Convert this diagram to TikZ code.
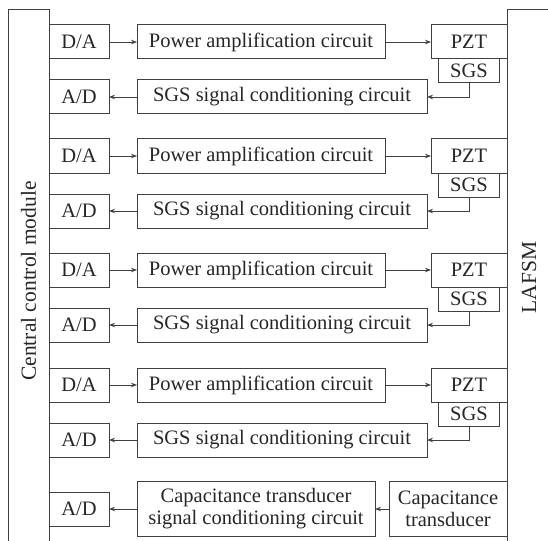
\documentclass[tikz,border=0pt]{standalone}
\usepackage{fontspec}
\setmainfont{Liberation Serif}
\usetikzlibrary{positioning, arrows.meta}

\begin{document}
\begin{tikzpicture}[
    x=1pt, y=-1pt,
    every node/.style={font=\fontsize{20.5}{22}\selectfont, text=black!85},
    blk/.style={rectangle, draw=black!75, line width=1pt, inner sep=0pt, outer sep=0pt, minimum height=34pt},
    conv/.style={blk, minimum width=60pt},
    sidebox/.style={blk, rotate=90, minimum height=41pt, font=\fontsize{21.5}{24}\selectfont},
    sig/.style={draw=black!75, line width=0.9pt, -{Stealth[length=6pt, width=4.5pt]}}
]
\useasboundingbox (0,0) rectangle (548,540);

% side modules
\node[sidebox, minimum width=542pt](ccm) at (28.5,281){Central control module};
\node[sidebox, minimum width=535pt, minimum height=44pt](lafsm) at (529,277.5){LAFSM};

% channel 1
\node[conv, anchor=west](da1) at (49,42){D/A};
\node[blk, minimum width=248pt](pa1)[right = 28pt of da1]{Power amplification circuit};
\node[blk, minimum width=76pt](pzt1)[right = 46pt of pa1]{PZT};
\node[blk, minimum width=61pt, minimum height=24pt](sgs1)[below = 0pt of pzt1]{SGS};
\node[conv](ad1)[below = 21pt of da1]{A/D};
\node[blk, minimum width=290pt](sc1)[right = 28pt of ad1]{SGS signal conditioning circuit};

\draw[sig] (da1) -- (pa1);
\draw[sig] (pa1) -- (pzt1);
\draw[sig] (sgs1.south) |- (sc1);
\draw[sig] (sc1) -- (ad1);

% channel 2
\node[conv](da2)[below = 25pt of ad1]{D/A};
\node[blk, minimum width=248pt](pa2)[right = 28pt of da2]{Power amplification circuit};
\node[blk, minimum width=76pt](pzt2)[right = 46pt of pa2]{PZT};
\node[blk, minimum width=61pt, minimum height=24pt](sgs2)[below = 0pt of pzt2]{SGS};
\node[conv](ad2)[below = 21pt of da2]{A/D};
\node[blk, minimum width=290pt](sc2)[right = 28pt of ad2]{SGS signal conditioning circuit};

\draw[sig] (da2) -- (pa2);
\draw[sig] (pa2) -- (pzt2);
\draw[sig] (sgs2.south) |- (sc2);
\draw[sig] (sc2) -- (ad2);

% channel 3
\node[conv](da3)[below = 25pt of ad2]{D/A};
\node[blk, minimum width=248pt](pa3)[right = 28pt of da3]{Power amplification circuit};
\node[blk, minimum width=76pt](pzt3)[right = 46pt of pa3]{PZT};
\node[blk, minimum width=61pt, minimum height=24pt](sgs3)[below = 0pt of pzt3]{SGS};
\node[conv](ad3)[below = 21pt of da3]{A/D};
\node[blk, minimum width=290pt](sc3)[right = 28pt of ad3]{SGS signal conditioning circuit};

\draw[sig] (da3) -- (pa3);
\draw[sig] (pa3) -- (pzt3);
\draw[sig] (sgs3.south) |- (sc3);
\draw[sig] (sc3) -- (ad3);

% channel 4
\node[conv](da4)[below = 26pt of ad3]{D/A};
\node[blk, minimum width=248pt](pa4)[right = 28pt of da4]{Power amplification circuit};
\node[blk, minimum width=76pt](pzt4)[right = 46pt of pa4]{PZT};
\node[blk, minimum width=61pt, minimum height=24pt](sgs4)[below = 0pt of pzt4]{SGS};
\node[conv](ad4)[below = 21pt of da4]{A/D};
\node[blk, minimum width=290pt](sc4)[right = 28pt of ad4]{SGS signal conditioning circuit};

\draw[sig] (da4) -- (pa4);
\draw[sig] (pa4) -- (pzt4);
\draw[sig] (sgs4.south) |- (sc4);
\draw[sig] (sc4) -- (ad4);

% capacitance channel
\node[conv](ad5)[below = 35pt of ad4]{A/D};
\node[blk, minimum width=238pt, minimum height=55pt, align=center](cc)[right = 28pt of ad5]{Capacitance transducer\\signal conditioning circuit};
\node[blk, minimum width=118pt, minimum height=55pt, align=center](ct)[right = 14pt of cc]{Capacitance\\transducer};

\draw[sig] (ct) -- (cc);
\draw[sig] (cc) -- (ad5);
\end{tikzpicture}
\end{document}
